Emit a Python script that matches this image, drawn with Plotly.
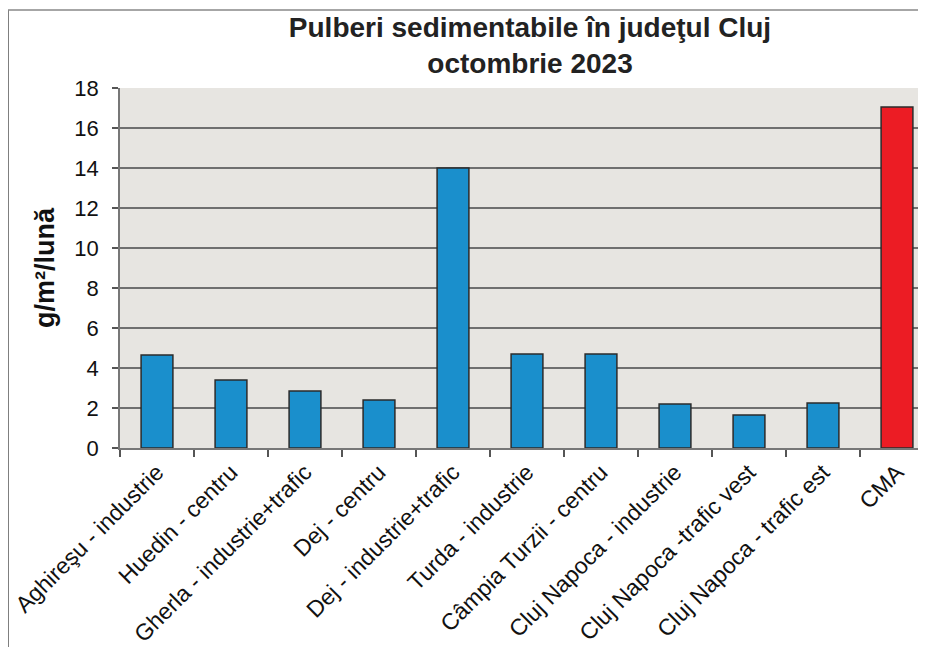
import plotly.graph_objects as go

categories = [
    "Aghireşu - industrie",
    "Huedin - centru",
    "Gherla - industrie+trafic",
    "Dej - centru",
    "Dej - industrie+trafic",
    "Turda - industrie",
    "Câmpia Turzii - centru",
    "Cluj Napoca - industrie",
    "Cluj Napoca -trafic vest",
    "Cluj Napoca - trafic est",
    "CMA",
]
values = [4.65, 3.4, 2.85, 2.4, 14.0, 4.7, 4.7, 2.2, 1.65, 2.25, 17.05]
bar_colors = ["#1a8fcc"] * 10 + ["#ec1c24"]
y_ticks = [0, 2, 4, 6, 8, 10, 12, 14, 16, 18]

# the page body adds an 8px margin, so the figure is sized to end at the window edge
W, H = 918, 639
L, R, T, B = 112, 0, 80, 199
cat_px = 74.0
plot_w = W - L - R
plot_h = H - T - B

fig = go.Figure()
fig.add_trace(go.Bar(
    x=categories,
    y=values,
    width=0.43,
    marker=dict(color=bar_colors, line=dict(color="#2b2b2b", width=1.5)),
    hoverinfo="x+y",
))

fig.update_layout(
    width=W, height=H,
    margin=dict(l=L, r=R, t=T, b=B),
    paper_bgcolor="white",
    plot_bgcolor="#e7e5e1",
    showlegend=False,
    font=dict(family="Liberation Sans, Arial, sans-serif", color="#111"),
    title=dict(
        text="<b>Pulberi sedimentabile în judeţul Cluj<br>octombrie 2023</b>",
        x=522 / W, xanchor="center", xref="container",
        y=1 - 29 / H, yanchor="top", yref="container",
        font=dict(size=28, family="Liberation Sans, Arial, sans-serif", color="#222"),
    ),
)

fig.update_xaxes(
    type="category",
    range=[-0.5, -0.5 + plot_w / cat_px],
    tickangle=-45,
    tickfont=dict(size=23, color="#111"),
    ticks="outside", tickson="boundaries", ticklen=7, tickcolor="#555", tickwidth=1.5,
    showline=True, linecolor="#777", linewidth=1.5,
    showgrid=False,
)
fig.update_yaxes(
    range=[0, 18],
    tickvals=y_ticks,
    tickfont=dict(size=22, color="#111"),
    ticks="outside", ticklen=6, tickcolor="#555", tickwidth=1.5,
    ticklabelstandoff=9,
    showline=True, linecolor="#777", linewidth=1.5,
    showgrid=True, gridcolor="#6f6f6f", gridwidth=1.5,
    zeroline=False,
    title=dict(text="<b>g/m²/lună</b>", font=dict(size=27, color="#111"), standoff=12),
)

# page frame (scanned document border)
fx = (0 - L) / plot_w
fy_top = (H - B - 2) / plot_h
fy_bot = (H - B - H) / plot_h
fig.add_shape(type="line", xref="paper", yref="paper",
              x0=fx, x1=fx, y0=fy_bot, y1=fy_top,
              line=dict(color="#555", width=1.5))
fig.add_shape(type="line", xref="paper", yref="paper",
              x0=fx, x1=1.0, y0=fy_top, y1=fy_top,
              line=dict(color="#888", width=1.5))

fig.write_html("out.html")
